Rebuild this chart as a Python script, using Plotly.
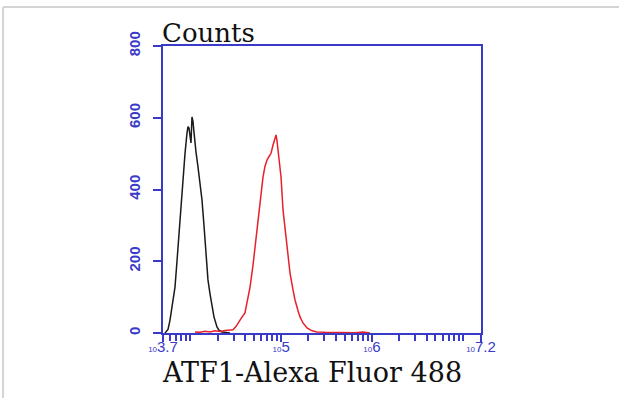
import math
import plotly.graph_objects as go

# ---- data (log10 fluorescence, counts) ----
control_log_x = [3.722, 3.755, 3.777, 3.799, 3.832, 3.854, 3.887, 3.909, 3.920, 3.942,
                 3.964, 3.975, 3.986, 3.997, 4.008, 4.019, 4.030, 4.041, 4.052, 4.063,
                 4.085, 4.107, 4.129, 4.151, 4.162, 4.184, 4.195, 4.217, 4.239, 4.261,
                 4.294, 4.316, 4.349, 4.393, 4.437]
control_counts = [0, 10, 36, 75, 128, 200, 315, 400, 446, 500,
                  557, 575, 571, 555, 530, 602, 590, 560, 530, 505,
                  463, 420, 371, 300, 259, 190, 148, 110, 72, 45,
                  17, 8, 3, 1, 0]

atf1_log_x = [4.052, 4.107, 4.162, 4.217, 4.272, 4.327, 4.382, 4.437, 4.470, 4.503,
              4.525, 4.558, 4.602, 4.636, 4.658, 4.691, 4.713, 4.746, 4.768, 4.790,
              4.801, 4.823, 4.845, 4.867, 4.889, 4.911, 4.933, 4.944, 4.955, 4.966,
              4.988, 4.999, 5.021, 5.043, 5.065, 5.087, 5.098, 5.131, 5.153, 5.186,
              5.208, 5.241, 5.285, 5.340, 5.395, 5.483, 5.593, 5.703, 5.813, 5.901, 5.978]
atf1_counts = [3, 2, 5, 3, 6, 4, 7, 8, 9, 18,
               28, 40, 56, 95, 128, 190, 240, 300, 351, 410,
               435, 465, 482, 492, 501, 524, 540, 552, 535, 510,
               470, 435, 343, 295, 251, 195, 167, 120, 92, 62,
               45, 28, 14, 6, 3, 2, 1, 2, 1, 3, 0]

x_tick_exponents = [3.7, 5, 6, 7.2]
x_tick_labels = ["3.7", "5", "6", "7.2"]
y_ticks = [0, 200, 400, 600, 800]

AXIS_BLUE = "#3a3ac8"

fig = go.Figure()
fig.add_trace(go.Scatter(x=[10 ** v for v in control_log_x], y=control_counts,
                         mode="lines", line=dict(color="#1a1a1a", width=1.5),
                         showlegend=False))
fig.add_trace(go.Scatter(x=[10 ** v for v in atf1_log_x], y=atf1_counts,
                         mode="lines", line=dict(color="#e8202a", width=1.5),
                         showlegend=False))

minor_vals = [k * 10 ** d for d in range(3, 8) for k in range(1, 10)
              if 3.7 < math.log10(k * 10 ** d) < 7.2]

fig.update_xaxes(
    type="log", range=[3.7, 7.2],
    showline=True, linecolor=AXIS_BLUE, linewidth=2, mirror=True,
    showgrid=False, zeroline=False,
    ticks="outside", ticklen=7, tickwidth=1.5, tickcolor=AXIS_BLUE,
    tickvals=[10 ** e for e in x_tick_exponents],
    ticktext=["<span style='font-size:8px'>10</span>" + t for t in x_tick_labels],
    tickfont=dict(family="Liberation Sans", size=15, color=AXIS_BLUE),
    ticklabelstandoff=-8,
    minor=dict(tickvals=minor_vals, ticks="outside", ticklen=6,
               tickwidth=1.5, tickcolor=AXIS_BLUE, showgrid=False),
)
fig.update_yaxes(
    range=[0, 800],
    showline=True, linecolor=AXIS_BLUE, linewidth=2, mirror=True,
    showgrid=False, zeroline=False,
    ticks="outside", ticklen=8, tickwidth=1.5, tickcolor=AXIS_BLUE,
    tickvals=y_ticks, ticktext=[str(v) for v in y_ticks], tickangle=-90,
    tickfont=dict(family="Liberation Sans", size=15, color=AXIS_BLUE, weight="bold"),
    ticklabelstandoff=7,
)

fig.add_annotation(text="Counts", xref="paper", yref="paper", x=-0.01, y=1.045,
                   xanchor="left", yanchor="middle", showarrow=False,
                   font=dict(family="DejaVu Serif", size=26, color="#111111"))
fig.add_annotation(text="ATF1-Alexa Fluor 488", xref="paper", yref="paper", x=-0.01, y=-0.139,
                   xanchor="left", yanchor="middle", showarrow=False,
                   font=dict(family="DejaVu Serif", size=27, color="#111111"))

# light frame lines (top and left)
fig.add_shape(type="line", xref="paper", yref="paper", x0=-0.503, x1=1.5, y0=1.136, y1=1.136,
              line=dict(color="#d4d4d4", width=2))
fig.add_shape(type="line", xref="paper", yref="paper", x0=-0.503, x1=-0.503, y0=1.136, y1=-0.3,
              line=dict(color="#d4d4d4", width=2))

fig.update_layout(
    width=619, height=398,
    margin=dict(l=163, r=138, t=46, b=65),
    paper_bgcolor="white", plot_bgcolor="white",
)

fig.write_html("out.html", config={"displayModeBar": False},
               post_script="document.body.style.margin='0';")
